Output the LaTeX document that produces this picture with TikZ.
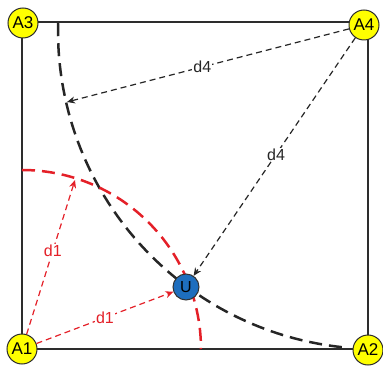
\documentclass[tikz,border=0pt]{standalone}
\usepackage{fontspec}
\setmainfont{Liberation Sans}
\usetikzlibrary{arrows.meta}
\definecolor{redc}{RGB}{228,32,40}
\definecolor{bluec}{RGB}{30,110,190}
\definecolor{yelc}{RGB}{255,255,0}
\definecolor{framec}{RGB}{45,45,45}
\begin{document}
\begin{tikzpicture}[x=1pt,y=-1pt,
  beacon/.style={circle,draw=framec,line width=1pt,fill=yelc,minimum size=30pt,inner sep=0pt,font=\fontsize{17}{17}\selectfont},
  user/.style={circle,draw=black!80,line width=1pt,fill=bluec,minimum size=26pt,inner sep=0pt,font=\fontsize{16}{16}\selectfont},
  bigarc/.style={line width=2.5pt,dash pattern=on 13pt off 7pt},
  dist/.style={line width=1.2pt,dash pattern=on 6pt off 4pt,-{Stealth[length=8pt,width=7pt]}},
  lab/.style={fill=white,inner sep=1pt,font=\fontsize{16}{16}\selectfont}]
\useasboundingbox (0,0) rectangle (383,366);
\draw[framec,line width=2.2pt] (22,22) rectangle (368,349);
% arcs
\draw[bigarc,black!85] plot[domain=181.4:95,samples=80] ({376+318*cos(\x)},{31+318*sin(\x)});
\draw[bigarc,redc] plot[domain=-90:0,samples=60] ({22+179*cos(\x)},{349+179*sin(\x)});
% nodes
\coordinate (p4) at (67,102);
\coordinate (p1) at (75,180);
\node[user] (U) at (186,287) {U};
\node[beacon] (A1) at (22,349) {A1};
\node[beacon] (A2) at (368,350) {A2};
\node[beacon] (A3) at (23,23) {A3};
\node[beacon] (A4) at (364,25) {A4};
% distance arrows
\draw[dist,black!85] (A4) -- node[lab,pos=0.52,text=black!85] {d4} (p4);
\draw[dist,black!85] (A4) -- node[lab,pos=0.49,text=black!85] {d4} (U);
\draw[dist,redc] (A1) -- node[lab,pos=0.54,text=redc] {d1} (p1);
\draw[dist,redc] (A1) -- node[lab,pos=0.5,text=redc] {d1} (U);
\end{tikzpicture}
\end{document}
